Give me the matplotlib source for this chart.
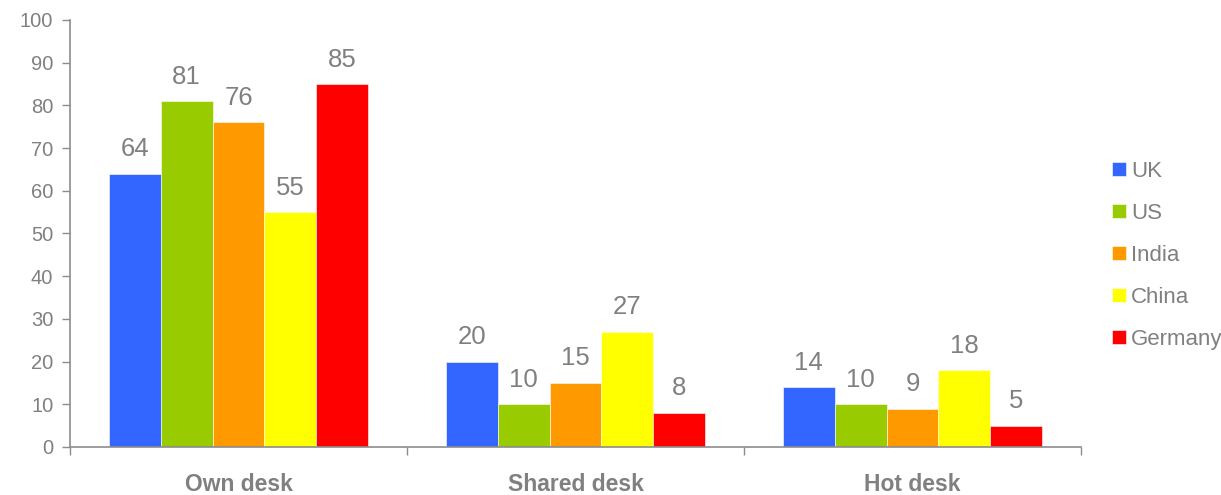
import matplotlib
matplotlib.use("Agg")
import matplotlib.pyplot as plt
import numpy as np

plt.rcParams["font.family"] = ["Liberation Sans", "DejaVu Sans"]

categories = ["Own desk", "Shared desk", "Hot desk"]
countries = ["UK", "US", "India", "China", "Germany"]
uk = [64, 20, 14]
us = [81, 10, 10]
india = [76, 15, 9]
china = [55, 27, 18]
germany = [85, 8, 5]
colors = ["#3366FF", "#99CC00", "#FF9900", "#FFFF00", "#FF0000"]

grey = "#808080"
axis_grey = "#8C8C8C"

fig = plt.figure(figsize=(12.21, 4.95), dpi=100)
ax = fig.add_axes([0.0573, 0.097, 0.828, 0.8626])

x = np.arange(len(categories))
width = 0.154
series = [uk, us, india, china, germany]
for i, (name, vals, col) in enumerate(zip(countries, series, colors)):
    pos = x + (i - 2) * width
    bars = ax.bar(pos, vals, width, color=col, label=name,
                  edgecolor="white", linewidth=0.4)
    for b, v in zip(bars, vals):
        ax.annotate(str(v), (b.get_x() + b.get_width() / 2, v),
                    xytext=(0, 9), textcoords="offset points",
                    ha="center", va="bottom", fontsize=18.5, color=grey)

ax.set_xlim(-0.5, 2.5)
ax.set_ylim(0, 100)
ax.set_yticks(range(0, 101, 10))
ax.set_xticks(x)
ax.set_xticklabels(categories, fontsize=16.5, fontweight="bold", color=grey)
ax.set_xticks([-0.5, 0.5, 1.5, 2.5], minor=True)
ax.tick_params(axis="x", which="major", length=0, pad=19)
ax.tick_params(axis="x", which="minor", length=6, color=axis_grey, width=1)
ax.tick_params(axis="y", length=6, color=axis_grey, width=1,
               labelsize=14.5, labelcolor=grey, pad=6)

for side in ("top", "right"):
    ax.spines[side].set_visible(False)
for side in ("left", "bottom"):
    ax.spines[side].set_color(axis_grey)
    ax.spines[side].set_linewidth(1.2)

leg = fig.legend(loc="center left", bbox_to_anchor=(0.911, 0.484),
                 frameon=False, fontsize=16, handlelength=0.6,
                 handleheight=0.6, handletextpad=0.25, labelspacing=0.95,
                 borderaxespad=0, borderpad=0)
for t in leg.get_texts():
    t.set_color(grey)

fig.savefig("out.png", dpi=100)
